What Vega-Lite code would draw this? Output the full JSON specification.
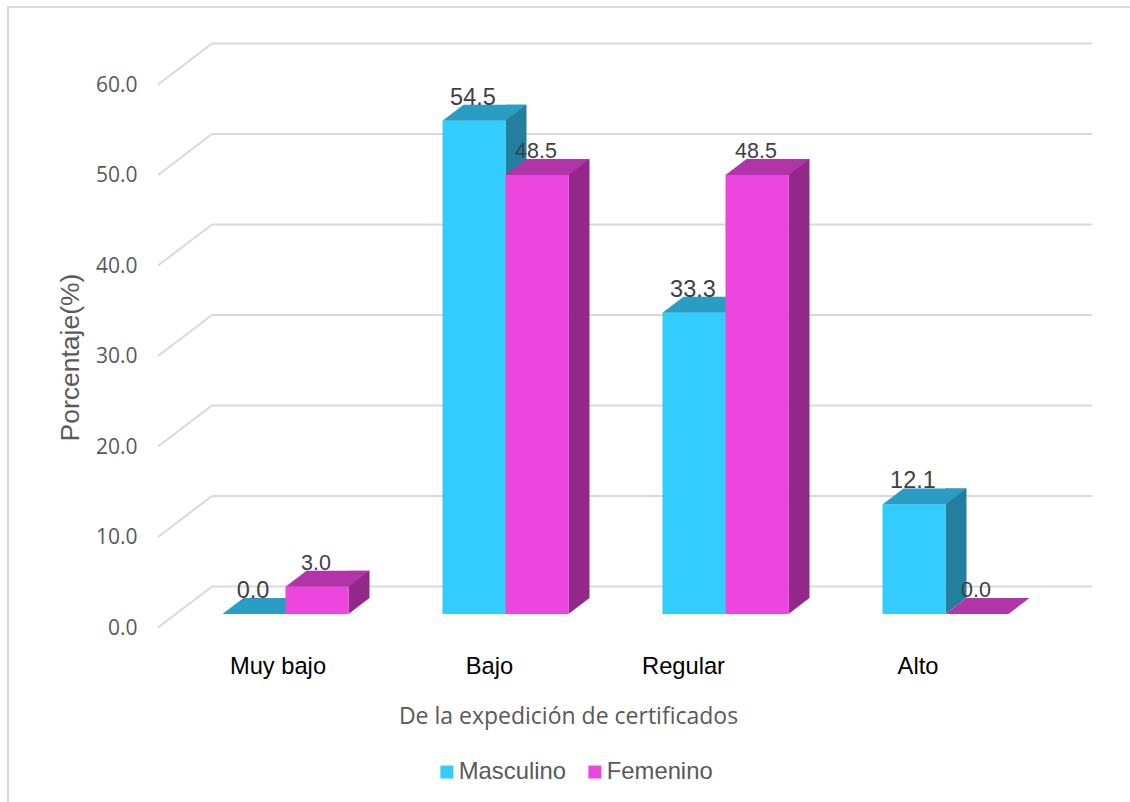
{
"$schema":"https://vega.github.io/schema/vega-lite/v6.json",
"width":880,"height":543,"autosize":{"type":"none"},
"padding":{"left":212,"top":71,"right":38,"bottom":188},
"background":"white",
"config":{"view":{"stroke":null}},
"data":{"values":[
{"nivel":"Muy bajo","sexo":"Masculino","pct":0.0},
{"nivel":"Muy bajo","sexo":"Femenino","pct":3.0},
{"nivel":"Bajo","sexo":"Masculino","pct":54.5},
{"nivel":"Bajo","sexo":"Femenino","pct":48.5},
{"nivel":"Regular","sexo":"Masculino","pct":33.3},
{"nivel":"Regular","sexo":"Femenino","pct":48.5},
{"nivel":"Alto","sexo":"Masculino","pct":12.1},
{"nivel":"Alto","sexo":"Femenino","pct":0.0}
]},
"layer":[
{"data":{"values":[{"g":0},{"g":10},{"g":20},{"g":30},{"g":40},{"g":50},{"g":60}]},
 "mark":{"type":"rule","color":"#d9d9d9","strokeWidth":2.2,"yOffset":-27.5,"y2Offset":-27.5},
 "encoding":{"y":{"field":"g","type":"quantitative","title":"Porcentaje(%)","scale":{"domain":[0,60]}}}},
{"data":{"values":[{"g":0,"nivel":"Muy bajo"},{"g":10,"nivel":"Muy bajo"},{"g":20,"nivel":"Muy bajo"},{"g":30,"nivel":"Muy bajo"},{"g":40,"nivel":"Muy bajo"},{"g":50,"nivel":"Muy bajo"},{"g":60,"nivel":"Muy bajo"}]},
 "mark":{"type":"point","shape":"M-73.5 -27.5L-127.5 13.5","size":4,"filled":false,"stroke":"#d9d9d9","strokeWidth":2,"opacity":1},
 "encoding":{"y":{"field":"g","type":"quantitative","title":"Porcentaje(%)"},
 "x":{"field":"nivel","type":"nominal","title":"De la expedición de certificados","sort":["Muy bajo","Bajo","Regular","Alto"],"scale":{"domain":["Muy bajo","Bajo","Regular","Alto"],"range":[-36.5,843.5],"paddingInner":0,"paddingOuter":0}}}},
{"data":{"values":[{"g":60,"nivel":"Muy bajo"}]},
 "mark":{"type":"point","shape":"M-277.5 731L-277.5 -64L844.5 -64","size":4,"filled":false,"stroke":"#d9d9d9","strokeWidth":2,"opacity":1},
 "encoding":{"y":{"field":"g","type":"quantitative","title":"Porcentaje(%)"},
 "x":{"field":"nivel","type":"nominal","title":"De la expedición de certificados"}}},
{"encoding":{
  "x":{"field":"nivel","type":"nominal","sort":["Muy bajo","Bajo","Regular","Alto"],"title":"De la expedición de certificados",
    "axis":{"domain":false,"ticks":false,"grid":false,"labelAngle":0,"labelAlign":"center","labelFont":"Liberation Sans","labelFontSize":23.7,"labelColor":"#000000","labelPadding":52,"labelBaseline":"middle",
      "labelOffset":{"expr":"datum.value==='Muy bajo'?-7.5:datum.value==='Bajo'?-16:datum.value==='Regular'?-42:-27.5"},
      "titleFont":"Open Sans","titleFontSize":23,"titleFontWeight":"normal","titleColor":"#595959","titleX":356,"titleY":102,"titleBaseline":"middle"},
    "scale":{"domain":["Muy bajo","Bajo","Regular","Alto"],"range":[-36.5,843.5],"paddingInner":0,"paddingOuter":0}},
  "xOffset":{"field":"sexo","type":"nominal","sort":["Masculino","Femenino"],"scale":{"domain":["Masculino","Femenino"],"paddingInner":0,"paddingOuter":0.746}},
  "y":{"field":"pct","type":"quantitative","stack":null,"title":"Porcentaje(%)","scale":{"domain":[0,60]},
    "axis":{"domain":false,"ticks":false,"grid":false,"values":[0,10,20,30,40,50,60],"format":".1f","labelOffset":14,"labelPadding":75,"labelFont":"Open Sans","labelFontSize":21,"labelColor":"#595959",
      "titleFont":"Liberation Sans","titleFontSize":26.5,"titleFontWeight":"normal","titleColor":"#595959","titleX":-142,"titleY":286,"titleBaseline":"middle"}}
 },
 "layer":[
  {"transform":[{"filter":"datum.sexo==='Masculino' && datum.pct>0"}],"mark":{"type":"bar","width":21,"color":"#237F9F","xOffset":10.5,"yOffset":-16,"y2Offset":-16},"encoding":{"xOffset":null,"y2":{"datum":0}}},
  {"transform":[{"filter":"datum.sexo==='Masculino' && datum.pct>0"}],"mark":{"type":"point","shape":"M31.5 0L31.5 -16L52.5 -16Z","size":4,"filled":true,"color":"#237F9F","opacity":1},"encoding":{"y":{"datum":0,"title":"Porcentaje(%)"}}},
  {"transform":[{"filter":"datum.sexo==='Masculino'"}],"mark":{"type":"bar"},
   "encoding":{"color":{"field":"sexo","type":"nominal","scale":{"domain":["Masculino","Femenino"],"range":["#33CCFF","#EC46DE"]},
     "legend":{"title":null,"orient":"none","legendX":223,"legendY":689,"direction":"horizontal","symbolType":"square","symbolSize":169,"symbolStrokeWidth":0,"labelFont":"Liberation Sans","labelFontSize":23.8,"labelColor":"#595959","columnPadding":17,"labelOffset":0}}}},
  {"transform":[{"filter":"datum.sexo==='Masculino'"}],"mark":{"type":"point","shape":"M-31.5 0L31.5 0L52.5 -16L-10.5 -16Z","size":4,"filled":true,"color":"#2B9CC2","opacity":1}},
  {"transform":[{"filter":"datum.sexo==='Femenino' && datum.pct>0"}],"mark":{"type":"bar","width":21,"color":"#93288A","xOffset":73.5,"yOffset":-16,"y2Offset":-16},"encoding":{"xOffset":null,"y2":{"datum":0}}},
  {"transform":[{"filter":"datum.sexo==='Femenino' && datum.pct>0"}],"mark":{"type":"point","shape":"M31.5 0L31.5 -16L52.5 -16Z","size":4,"filled":true,"color":"#93288A","opacity":1},"encoding":{"y":{"datum":0,"title":"Porcentaje(%)"}}},
  {"transform":[{"filter":"datum.sexo==='Femenino'"}],"mark":{"type":"bar"},
   "encoding":{"color":{"field":"sexo","type":"nominal"}}},
  {"transform":[{"filter":"datum.sexo==='Femenino'"}],"mark":{"type":"point","shape":"M-31.5 0L31.5 0L52.5 -16L-10.5 -16Z","size":4,"filled":true,"color":"#B135A8","opacity":1}},
  {"transform":[{"filter":"datum.sexo==='Masculino'"}],"mark":{"type":"text","font":"Liberation Sans","fontSize":23.5,"color":"#404040","yOffset":-23,"dx":-1},
   "encoding":{"text":{"field":"pct","type":"quantitative","format":".1f"}}},
  {"transform":[{"filter":"datum.sexo==='Femenino'"}],"mark":{"type":"text","font":"Liberation Sans","fontSize":21.5,"color":"#404040","yOffset":-23,"dx":-1},
   "encoding":{"text":{"field":"pct","type":"quantitative","format":".1f"}}}
 ]}
]
}
